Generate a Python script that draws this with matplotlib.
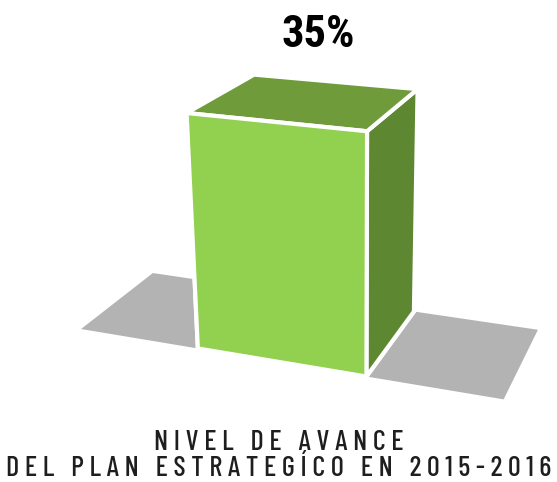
import matplotlib
matplotlib.use('Agg')
import numpy as np
import matplotlib.pyplot as plt
from matplotlib.transforms import offset_copy
from mpl_toolkits.mplot3d import proj3d

# Datos del grafico
categorias = ['Plan Estrategico 2015-2016']
avance = [35]
etiquetas = ['35%']
titulo = ['NIVEL DE AVANCE', 'DEL PLAN ESTRATEGÍCO EN 2015-2016']

VERDE_FRENTE = '#92D050'
VERDE_TAPA = '#6F9B3A'
VERDE_LADO = '#5E8732'
GRIS_PISO = '#B3B3B3'

fig = plt.figure(figsize=(5.57, 4.82), dpi=100)
ax = fig.add_axes([159 / 557, 93 / 482, 388 / 557, 384 / 482], projection='3d', computed_zorder=False)
ax.set_proj_type('persp', focal_length=0.6)
ax.view_init(elev=19.5, azim=-70.6)

ancho, fondo = 1.0, 0.87
x0, x1 = -0.8, 2.4
zmax = 45

# Piso gris
X, Y = np.meshgrid([-0.75, 1.75], [0, fondo])
ax.plot_surface(X, Y, np.zeros_like(X), color=GRIS_PISO, shade=False, linewidth=0, zorder=1)

# Barra: caras -Z, +Z, -Y, +Y, -X, +X
for i, v in enumerate(avance):
    ax.bar3d(i, 0, 0, ancho, fondo, v,
             color=[VERDE_FRENTE, VERDE_TAPA, VERDE_FRENTE, VERDE_LADO, VERDE_FRENTE, VERDE_LADO],
             shade=False, edgecolor='white', linewidth=3, zorder=2)

ax.set_xlim(x0, x1)
ax.set_ylim(0, fondo)
ax.set_zlim(0, zmax)
ax.set_box_aspect((x1 - x0, fondo, zmax * 1.37 / 35), zoom=1.72 * 398 / 384 * 1.012 * 0.96)
ax.set_axis_off()
for c in ax.collections:
    c.set_clip_on(False)

# Etiqueta de valor sobre la barra (proyectada a 2D)
fig.canvas.draw()
desplazado = offset_copy(ax.transData, fig=fig, x=13, y=6, units='dots')
for i, v in enumerate(avance):
    xp, yp, _ = proj3d.proj_transform(i + ancho / 2, fondo / 2, v * 1.24, ax.get_proj())
    ax.text2D(xp, yp, etiquetas[i], transform=desplazado, ha='center', va='center',
              fontsize=32, fontweight='bold', family='Roboto Condensed', clip_on=False)

def espaciar(s):
    return ' '.join(s)

fig.text(0.5, 1 - 443 / 482, espaciar(titulo[0]), ha='center', va='center', fontsize=20.4,
         color='#1E1E1E', family=['Barlow Condensed', 'Roboto Condensed'], fontweight='medium')
fig.text(0.5, 1 - 469 / 482, espaciar(titulo[1]), ha='center', va='center', fontsize=20.4,
         color='#1E1E1E', family=['Barlow Condensed', 'Roboto Condensed'], fontweight='medium')

fig.savefig('out.png', dpi=100)
